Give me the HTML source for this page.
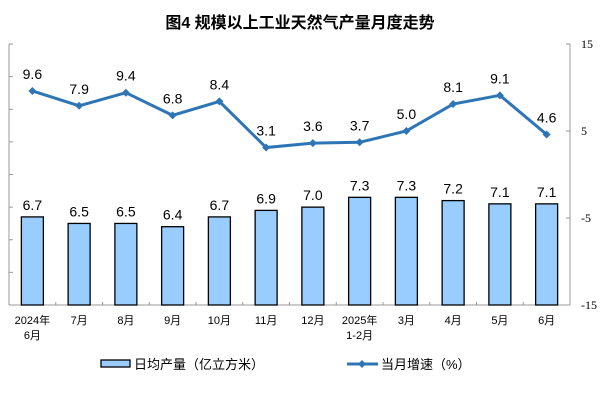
<!DOCTYPE html>
<html><head><meta charset="utf-8"><style>
body{margin:0;background:#fff;}
svg{display:block;font-family:"Liberation Sans","Noto Sans CJK SC",sans-serif;}
</style></head><body>
<svg id="c" width="600" height="400"></svg>
<script>
const categories=["2024年|6月","7月","8月","9月","10月","11月","12月","2025年|1-2月","3月","4月","5月","6月"];
const dailyOutput=[6.7,6.5,6.5,6.4,6.7,6.9,7.0,7.3,7.3,7.2,7.1,7.1];
const growthRate=[9.6,7.9,9.4,6.8,8.4,3.1,3.6,3.7,5.0,8.1,9.1,4.6];
const rightTicks=[15,5,-5,-15];
const leftTicks=[4,5,6,7,8,9,10,11,12];
const svg=document.getElementById('c');
const NS='http://www.w3.org/2000/svg';
function mk(t,a,p){const e=document.createElementNS(NS,t);for(const k in a)e.setAttribute(k,a[k]);(p||svg).appendChild(e);return e;}
const X0=9,X1=570,Y0=44,Y1=305;
const slot=(X1-X0)/categories.length;
const xc=i=>X0+slot*(i+0.5);
const yL=v=>Y1-(v-4)/(12-4)*(Y1-Y0);
const yR=v=>Y1-(v+15)/30*(Y1-Y0);
let t=mk('text',{x:300,y:28,'text-anchor':'middle','font-size':16,'font-weight':'bold',fill:'#000'});t.textContent='图4  规模以上工业天然气产量月度走势';


let ax=mk('g',{stroke:'#999','stroke-width':1});


mk('line',{x1:X0,y1:Y0,x2:X0,y2:Y1},ax);
mk('line',{x1:X1,y1:Y0,x2:X1,y2:Y1},ax);
mk('line',{x1:X0,y1:Y1,x2:X1,y2:Y1},ax);
leftTicks.forEach(v=>mk('line',{x1:X0,y1:yL(v),x2:X0+4,y2:yL(v)},ax));
rightTicks.forEach(v=>{mk('line',{x1:X1-4,y1:yR(v),x2:X1,y2:yR(v)},ax);
 const l=mk('text',{x:581,y:yR(v)+4,'font-size':12,fill:'#000',stroke:'none','font-family':'Liberation Serif, serif'});l.textContent=v;
 
 });
for(let i=1;i<categories.length;i++)mk('line',{x1:X0+slot*i,y1:Y1,x2:X0+slot*i,y2:Y1-3},ax);
categories.forEach((c,i)=>{
 const b=mk('rect',{x:xc(i)-11,y:yL(dailyOutput[i]),width:22,height:Y1-yL(dailyOutput[i]),fill:'#99CCFF',stroke:'#000','stroke-width':1.3});
 
 
 const bl=mk('text',{x:xc(i),y:yL(dailyOutput[i])-7,'text-anchor':'middle','font-size':14,fill:'#000'});bl.textContent=dailyOutput[i].toFixed(1);
 
 
 c.split('|').forEach((s,k)=>{const l=mk('text',{x:xc(i),y:324+k*15,'text-anchor':'middle','font-size':11,fill:'#000'});l.textContent=s;
  
  });
});
const pts=growthRate.map((v,i)=>xc(i)+','+yR(v)).join(' ');
const pl=mk('polyline',{points:pts,fill:'none',stroke:'#2E75B6','stroke-width':3});


growthRate.forEach((v,i)=>{
 const x=xc(i),y=yR(v);
 const m=mk('polygon',{points:`${x},${y-4} ${x+4},${y} ${x},${y+4} ${x-4},${y}`,fill:'#2E75B6'});
 
 
 const l=mk('text',{x:x,y:y-12,'text-anchor':'middle','font-size':14,fill:'#000'});l.textContent=v.toFixed(1);
 
 
});
const lg=mk('g',{});


mk('rect',{x:101,y:360,width:29,height:7,fill:'#99CCFF',stroke:'#000','stroke-width':1.3},lg);
let l1=mk('text',{x:134,y:369,'font-size':13,fill:'#000'},lg);l1.textContent='日均产量（亿立方米）';


mk('line',{x1:347,y1:364,x2:378,y2:364,stroke:'#2E75B6','stroke-width':3},lg);
mk('polygon',{points:'362,360 366,364 362,368 358,364',fill:'#2E75B6'},lg);
let l2=mk('text',{x:381,y:369,'font-size':13,fill:'#000'},lg);l2.textContent='当月增速（%）';


</script>
</body></html>
